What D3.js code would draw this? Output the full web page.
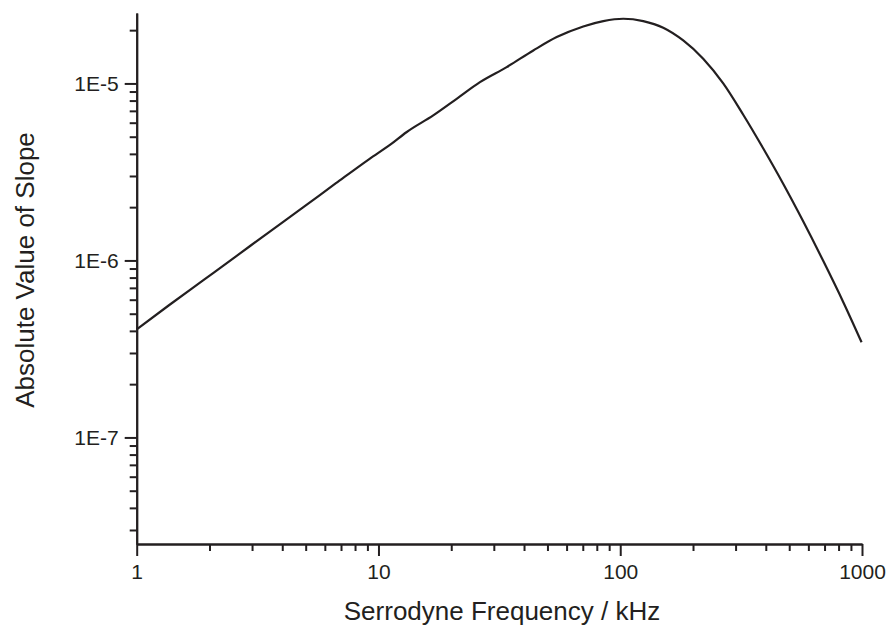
<!DOCTYPE html>
<html>
<head>
<meta charset="utf-8">
<script src="https://cdn.jsdelivr.net/npm/d3@7"></script>
<style>
  html, body { margin: 0; padding: 0; background: #fff; }
  svg { display: block; }
  text { font-family: "Liberation Sans", Arial, Helvetica, sans-serif; fill: #231f20; }
</style>
</head>
<body>
<svg id="chart" width="891" height="627"></svg>
<script>
// Data
const frequency = [1, 1.364, 1.875, 2.575, 3.53, 4.86, 6.67, 9.16, 11.3, 13.05, 16.85, 21.06, 26.29, 33.9, 43.7, 54.6, 70.3, 85.1, 102.9, 124.5, 150.6, 182.2, 220.4, 266.7, 322.7, 390, 472, 571, 691, 836, 996];
const slope = [4.08e-7, 5.60e-7, 7.69e-7, 1.055e-6, 1.447e-6, 1.985e-6, 2.73e-6, 3.74e-6, 4.55e-6, 5.30e-6, 6.60e-6, 8.19e-6, 1.017e-5, 1.236e-5, 1.536e-5, 1.827e-5, 2.099e-5, 2.25e-5, 2.32e-5, 2.25e-5, 2.064e-5, 1.749e-5, 1.379e-5, 1.0e-5, 6.65e-6, 4.30e-6, 2.71e-6, 1.663e-6, 9.95e-7, 5.83e-7, 3.45e-7];
const xMajorTicks = [1, 10, 100, 1000];
const xTickLabels = ["1", "10", "100", "1000"];
const yMajorTicks = [1e-7, 1e-6, 1e-5];
const yTickLabels = ["1E-7", "1E-6", "1E-5"];
const xTitle = "Serrodyne Frequency / kHz";
const yTitle = "Absolute Value of Slope";

const svg = d3.select("#chart");
const color = "#231f20";

const x = d3.scaleLog().domain([1, 1000]).range([136.7, 862]);
const y = d3.scaleLog().domain([2.5e-8, 2.5e-5]).range([544, 13]);

function minorTicks(scale) {
  const [a, b] = scale.domain();
  const out = [];
  for (let e = Math.floor(Math.log10(a)); e <= Math.ceil(Math.log10(b)); e++) {
    for (let m = 2; m <= 9; m++) {
      const v = m * Math.pow(10, e);
      if (v >= a * 0.9999 && v <= b * 1.0001) out.push(v);
    }
  }
  return out;
}

// X axis
const gx = svg.append("g").attr("transform", "translate(0,544)");
gx.append("g").call(d3.axisBottom(x).tickValues(minorTicks(x)).tickSize(7).tickSizeOuter(0).tickFormat(""));
gx.append("g").call(d3.axisBottom(x).tickValues(xMajorTicks).tickSize(12).tickSizeOuter(0).tickPadding(8)
  .tickFormat((d, i) => xTickLabels[i]));

// Y axis
const gy = svg.append("g").attr("transform", "translate(136.7,0)");
gy.append("g").call(d3.axisLeft(y).tickValues(minorTicks(y)).tickSize(7).tickSizeOuter(0).tickFormat(""));
gy.append("g").call(d3.axisLeft(y).tickValues(yMajorTicks).tickSize(12).tickSizeOuter(0).tickPadding(6)
  .tickFormat((d, i) => yTickLabels[i]));

svg.selectAll(".domain").attr("stroke", color).attr("stroke-width", 2);
svg.selectAll(".tick line").attr("stroke", color).attr("stroke-width", 2);
svg.selectAll(".tick text").attr("font-size", 21).attr("fill", color)
  .attr("font-family", '"Liberation Sans", Arial, sans-serif');

// Curve
const data = frequency.map((f, i) => ({ f, v: slope[i] }));
const line = d3.line().x(d => x(d.f)).y(d => y(d.v)).curve(d3.curveMonotoneX);
svg.append("path").datum(data).attr("d", line)
  .attr("fill", "none").attr("stroke", color).attr("stroke-width", 2.2);

// Titles
svg.append("text").attr("x", 502).attr("y", 620).attr("text-anchor", "middle")
  .attr("font-size", 26).text(xTitle);
svg.append("text").attr("transform", "translate(34,270) rotate(-90)").attr("text-anchor", "middle")
  .attr("font-size", 26).text(yTitle);
</script>
</body>
</html>
